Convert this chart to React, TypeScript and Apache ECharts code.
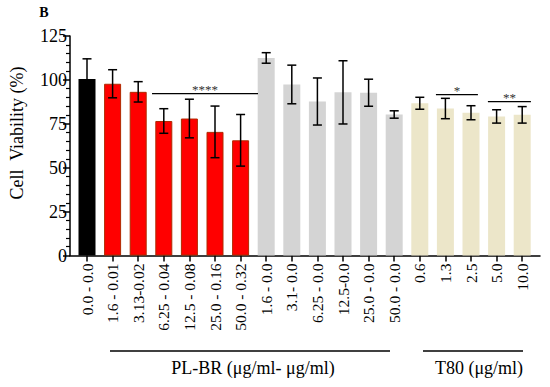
import React, { useEffect, useRef } from "react";
import * as echarts from "echarts";

const categories = [
  "0.0 - 0.0", "1.6 - 0.01", "3.13-0.02", "6.25 - 0.04", "12.5 - 0.08", "25.0 - 0.16", "50.0 - 0.32",
  "1.6 - 0.0", "3.1- 0.0", "6.25 - 0.0", "12.5-0.0", "25.0 - 0.0", "50.0 - 0.0",
  "0.6", "1.3", "2.5", "5.0", "10.0",
];
const means = [100.5, 97.8, 93.2, 76.6, 78.0, 70.4, 65.6, 112.5, 97.4, 87.7, 92.9, 92.7, 80.3, 86.7, 83.7, 81.3, 79.2, 80.1];
const errors = [11.5, 8.0, 5.8, 7.0, 11.0, 14.7, 14.7, 3.0, 11.0, 13.4, 18.0, 7.7, 2.1, 3.4, 5.8, 4.0, 3.8, 4.7];
const groups = ["ctrl", "plbr", "plbr", "plbr", "plbr", "plbr", "plbr", "pl", "pl", "pl", "pl", "pl", "pl", "t80", "t80", "t80", "t80", "t80"];
// significance brackets: from category position, to category position, value, label
const sigFrom = [2.54, 13.63, 15.66];
const sigTo = [6.68, 15.27, 17.34];
const sigY = [92.2, 91.6, 87.6];
const sigLabels = ["****", "*", "**"];
const yTicks = [0, 25, 50, 75, 100, 125];

const groupColors: Record<string, string> = {
  ctrl: "#000000",
  plbr: "#ff0000",
  pl: "#d4d4d4",
  t80: "#ece6c9",
};

const FONT = "Liberation Serif";

export default function App() {
  const ref = useRef<HTMLDivElement>(null);
  useEffect(() => {
    if (!ref.current) return;
    const chart = echarts.init(ref.current, null, { renderer: "svg" });
    const yMin = yTicks[0];
    const yMax = yTicks[yTicks.length - 1];
    const yInt = yTicks[1] - yTicks[0];
    const option: any = {
      animation: false,
      backgroundColor: "#ffffff",
      grid: [
        { left: 70, right: 10, top: 36, bottom: 131.5 },
        { left: 74.2, width: 460.8, top: 36, bottom: 131.5 },
      ],
      xAxis: [
        {
          type: "value",
          gridIndex: 0,
          min: 0,
          max: 1,
          axisLine: { show: true, lineStyle: { color: "#000", width: 1.5 } },
          axisTick: { show: false },
          axisLabel: { show: false },
          splitLine: { show: false },
        },
        {
          type: "category",
          gridIndex: 1,
          data: categories,
          axisLine: { show: false },
          axisTick: { show: true, alignWithLabel: true, length: 6, lineStyle: { color: "#000", width: 1.5 } },
          axisLabel: {
            rotate: 90,
            interval: 0,
            margin: 8,
            color: "#000",
            fontFamily: FONT,
            fontSize: 15.5,
          },
        },
      ],
      yAxis: [
        {
          type: "value",
          gridIndex: 0,
          min: yMin,
          max: yMax,
          interval: yInt,
          axisLine: { show: true, lineStyle: { color: "#000", width: 1.5 } },
          axisTick: { show: true, length: 7, lineStyle: { color: "#000", width: 1.5 } },
          minorTick: { show: true, splitNumber: 5, length: 4, lineStyle: { color: "#000", width: 1.2 } },
          axisLabel: { color: "#000", fontFamily: FONT, fontSize: 18, margin: 3 },
          splitLine: { show: false },
        },
        {
          type: "value",
          gridIndex: 1,
          min: yMin,
          max: yMax,
          interval: yInt,
          show: false,
        },
      ],
      series: [
        {
          type: "bar",
          xAxisIndex: 1,
          yAxisIndex: 1,
          barWidth: 17,
          data: means.map((v, i) => ({
            value: v,
            itemStyle: {
              color: groupColors[groups[i]],
              borderColor: groups[i] === "plbr" ? "#b02a00" : undefined,
              borderWidth: groups[i] === "plbr" ? 1 : 0,
            },
          })),
        },
        {
          type: "custom",
          xAxisIndex: 1,
          yAxisIndex: 1,
          itemStyle: { color: "#000" },
          data: means.map((v, i) => [i, v, errors[i]]),
          encode: { x: 0, y: 1 },
          z: 5,
          renderItem: (params: any, api: any) => {
            const x = api.value(0);
            const m = api.value(1);
            const e = api.value(2);
            const hi = api.coord([x, m + e]);
            const lo = api.coord([x, m - e]);
            const cw = 4.5;
            const style = { stroke: "#000", lineWidth: 1.5 };
            return {
              type: "group",
              children: [
                { type: "line", shape: { x1: hi[0], y1: hi[1], x2: lo[0], y2: lo[1] }, style },
                { type: "line", shape: { x1: hi[0] - cw, y1: hi[1], x2: hi[0] + cw, y2: hi[1] }, style },
                { type: "line", shape: { x1: lo[0] - cw, y1: lo[1], x2: lo[0] + cw, y2: lo[1] }, style },
              ],
            };
          },
        },
        {
          type: "custom",
          xAxisIndex: 1,
          yAxisIndex: 1,
          itemStyle: { color: "#333" },
          data: sigY.map((y, i) => [0, y, sigFrom[i], sigTo[i]]),
          encode: { x: 0, y: 1 },
          z: 6,
          renderItem: (params: any, api: any) => {
            const y = api.value(1);
            const base = api.coord([0, y]);
            const band = api.size([1, 0])[0];
            const x1 = base[0] + api.value(2) * band;
            const x2 = base[0] + api.value(3) * band;
            return {
              type: "group",
              children: [
                { type: "line", shape: { x1, y1: base[1], x2, y2: base[1] }, style: { stroke: "#000", lineWidth: 1.3 } },
                {
                  type: "text",
                  x: (x1 + x2) / 2,
                  y: base[1] + 2,
                  style: {
                    text: sigLabels[params.dataIndex],
                    fill: "#333",
                    fontSize: 13,
                    fontFamily: FONT,
                    align: "center",
                    verticalAlign: "bottom",
                  },
                },
              ],
            };
          },
        },
      ],
      graphic: [
        {
          type: "text",
          x: 44,
          y: 12,
          style: { text: "B", fontFamily: FONT, fontWeight: "bold", fontSize: 14, fill: "#000", align: "center", verticalAlign: "middle" },
        },
        {
          type: "text",
          x: 17,
          y: 133,
          rotation: Math.PI / 2,
          style: { text: "Cell  Viability (%)", fontFamily: FONT, fontSize: 18, fill: "#000", align: "center", verticalAlign: "middle" },
        },
        { type: "line", shape: { x1: 110, y1: 351, x2: 390, y2: 351 }, style: { stroke: "#000", lineWidth: 1.3 } },
        {
          type: "text",
          x: 253,
          y: 368,
          style: { text: "PL-BR (μg/ml- μg/ml)", fontFamily: FONT, fontSize: 18, fill: "#000", align: "center", verticalAlign: "middle" },
        },
        { type: "line", shape: { x1: 423, y1: 351, x2: 523, y2: 351 }, style: { stroke: "#000", lineWidth: 1.3 } },
        {
          type: "text",
          x: 479,
          y: 368,
          style: { text: "T80 (μg/ml)", fontFamily: FONT, fontSize: 18, fill: "#000", align: "center", verticalAlign: "middle" },
        },
      ],
    };
    chart.setOption(option);
    return () => chart.dispose();
  }, []);
  return (
    <div
      ref={ref}
      style={{ position: "fixed", left: 0, top: 0, width: 550, height: 387, background: "#fff" }}
    />
  );
}
